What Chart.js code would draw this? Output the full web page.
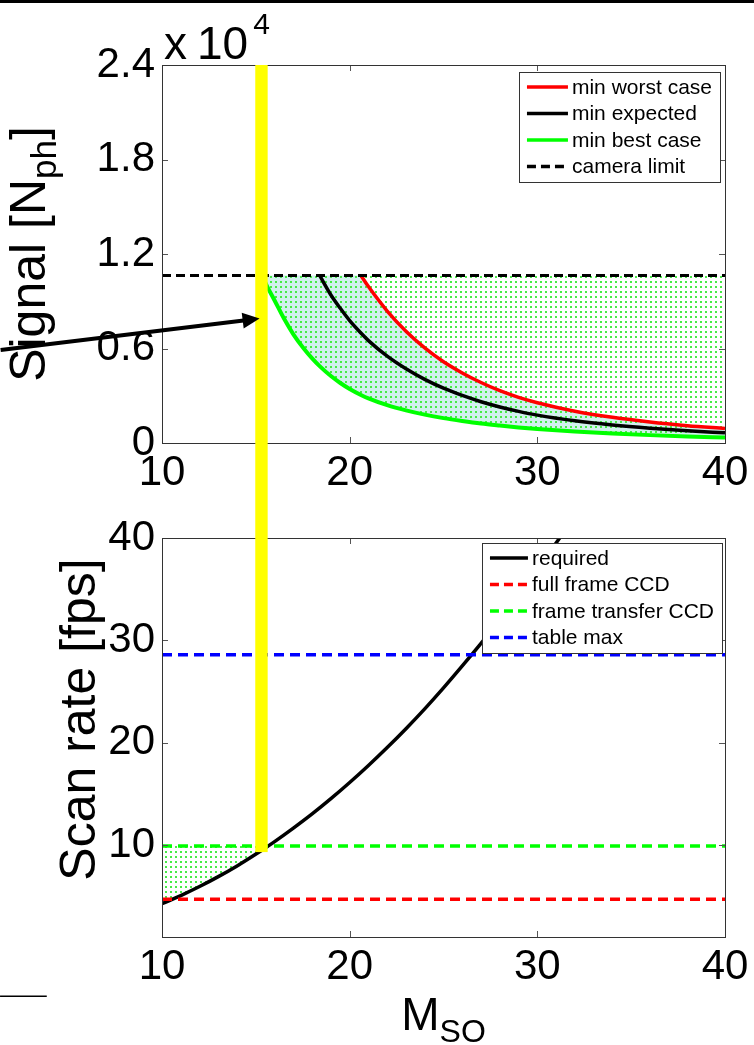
<!DOCTYPE html>
<html>
<head>
<meta charset="utf-8">
<script src="https://cdn.jsdelivr.net/npm/chart.js@4.4.0/dist/chart.umd.min.js"></script>
<style>
  html, body { margin: 0; padding: 0; background: #fff; }
  body { width: 754px; height: 1045px; position: relative; overflow: hidden; }
  #topRule { position: absolute; left: 0; top: 0; width: 754px; height: 3px; background: #000; z-index: 2; }
  #graficoSenal { position: absolute; left: 0; top: 0; }
  #graficoScan { position: absolute; left: 0; top: 500px; }
</style>
</head>
<body>
<div id="topRule"></div>
<canvas id="graficoSenal" width="754" height="500"></canvas>
<canvas id="graficoScan" width="754" height="545"></canvas>
<script>
// ---- signal plot (top), values in units of 1e4 photons ----
const msoGrid = [15.3, 15.6, 16, 16.5, 17, 17.5, 18, 18.4, 19, 19.5, 20, 20.6, 21, 22, 23, 24, 25, 26, 27, 28, 29, 30, 32, 34, 36, 38, 40];
const minBestCase = [1.07, 0.995, 0.905, 0.79, 0.69, 0.608, 0.537, 0.488, 0.425, 0.381, 0.343, 0.305, 0.283, 0.24, 0.207, 0.18, 0.158, 0.14, 0.124, 0.111, 0.099, 0.089, 0.073, 0.06, 0.05, 0.0415, 0.0345];
const minExpected = [null, null, null, null, null, null, null, 1.064, 0.94, 0.855, 0.777, 0.698, 0.65, 0.551, 0.471, 0.404, 0.348, 0.302, 0.262, 0.229, 0.201, 0.177, 0.141, 0.1145, 0.094, 0.0775, 0.0646];
const minWorstCase = [null, null, null, null, null, null, null, null, null, null, null, 1.064, 0.993, 0.838, 0.71, 0.604, 0.516, 0.445, 0.384, 0.332, 0.29, 0.256, 0.202, 0.163, 0.133, 0.11, 0.092];
const cameraLimit = 1.064;
const signalTicks = [0, 0.6, 1.2, 1.8, 2.4];
const msoTicks = [10, 20, 30, 40];

// ---- scan rate plot (bottom), fps ----
const msoRequired = [10, 11, 12, 13, 14, 15.3, 16, 17, 18, 19, 20, 21, 22, 23, 24, 25, 26, 27, 28, 29, 30, 31, 32];
const scanRequired = [4.25, 5.05, 5.93, 6.9, 7.95, 9.45, 10.32, 11.64, 13.03, 14.52, 16.1, 17.77, 19.52, 21.36, 23.3, 25.35, 27.5, 29.7, 32.0, 34.4, 36.9, 39.5, 42.1];
const fullFrameCCD = 4.7;
const frameTransferCCD = 9.9;
const tableMax = 28.6;
const scanTicks = [10, 20, 30, 40];

// chosen M_SO (yellow bar) and the hand-drawn marks around it
const msoChosen = 15.3;
const barBottomFps = 9.3;
const arrowFrom = [1.4, 0.59];
const arrowTo = [15.2, 0.79];
const stubLine = [[1.37, -4.8], [3.86, -4.8]];

const FONT = '"Liberation Sans", Arial, Helvetica, sans-serif';

function puntos(xs, ys) {
    return xs.map((x, i) => ({x, y: ys[i]}));
}

function recta(y, x0, x1) {
    return [{x: x0, y}, {x: x1, y}];
}

// MATLAB-like green dot hatch
function tramaPuntos(ctx) {
    const c = document.createElement('canvas');
    c.width = 5;
    c.height = 5;
    const g = c.getContext('2d');
    g.fillStyle = 'rgb(70,235,70)';
    g.fillRect(0, 1, 2, 2);
    return ctx.createPattern(c, 'repeat');
}

// text made of pieces, e.g. base + subscript
function textoCompuesto(ctx, partes, x, y, girar) {
    ctx.save();
    ctx.translate(x, y);
    if (girar) ctx.rotate(-Math.PI / 2);
    let ancho = 0;
    partes.forEach(p => {
        ctx.font = p.size + 'px ' + FONT;
        p.w = ctx.measureText(p.text).width;
        ancho += p.w;
    });
    let pos = -ancho / 2;
    ctx.fillStyle = '#000';
    ctx.textBaseline = 'alphabetic';
    ctx.textAlign = 'left';
    partes.forEach(p => {
        ctx.font = p.size + 'px ' + FONT;
        ctx.fillText(p.text, pos, p.dy || 0);
        pos += p.w;
    });
    ctx.restore();
}

const ejesMatlab = {
    id: 'ejesMatlab',
    afterDatasetsDraw(chart) {
        const {ctx, chartArea: a, scales: {x, y}} = chart;
        ctx.save();
        ctx.strokeStyle = '#555';
        ctx.lineWidth = 1;
        ctx.beginPath();
        x.ticks.forEach(t => {
            const px = Math.round(x.getPixelForValue(t.value)) + 0.5;
            ctx.moveTo(px, a.bottom); ctx.lineTo(px, a.bottom - 6);
            ctx.moveTo(px, a.top); ctx.lineTo(px, a.top + 6);
        });
        y.ticks.forEach(t => {
            const py = Math.round(y.getPixelForValue(t.value)) + 0.5;
            ctx.moveTo(a.left, py); ctx.lineTo(a.left + 6, py);
            ctx.moveTo(a.right, py); ctx.lineTo(a.right - 6, py);
        });
        ctx.stroke();
        ctx.strokeStyle = '#333';
        ctx.strokeRect(Math.round(a.left) + 0.5, Math.round(a.top) + 0.5, Math.round(a.width), Math.round(a.height));
        ctx.restore();
    }
};

function dibujarLeyenda(chart, margenDer, margenSup, largo) {
    const {ctx, chartArea: a} = chart;
    const items = chart.data.datasets.filter(d => d.enLeyenda).sort((p, q) => p.enLeyenda - q.enLeyenda);
    ctx.save();
    ctx.font = '21px ' + FONT;
    const maxTexto = Math.max(...items.map(d => ctx.measureText(d.label).width));
    const ancho = 8 + largo + 4 + maxTexto + 8;
    const alto = items.length * 26.5 + 4;
    const x0 = a.right - margenDer - ancho;
    const y0 = a.top + margenSup;
    ctx.fillStyle = '#fff';
    ctx.fillRect(x0, y0, ancho, alto);
    ctx.strokeStyle = '#333';
    ctx.lineWidth = 1;
    ctx.strokeRect(Math.round(x0) + 0.5, Math.round(y0) + 0.5, Math.round(ancho), Math.round(alto));
    items.forEach((d, i) => {
        const yy = y0 + 15 + i * 26.5;
        ctx.strokeStyle = d.borderColor;
        ctx.lineWidth = 3.5;
        ctx.setLineDash(d.borderDash && d.borderDash.length ? [9, 5] : []);
        ctx.beginPath();
        ctx.moveTo(x0 + 8, yy);
        ctx.lineTo(x0 + 8 + largo, yy);
        ctx.stroke();
        ctx.setLineDash([]);
        ctx.fillStyle = '#000';
        ctx.textBaseline = 'middle';
        ctx.fillText(d.label, x0 + 8 + largo + 4, yy + 1);
    });
    ctx.restore();
}

function barraAmarilla(chart, yTop, yBottom) {
    const {ctx, scales: {x}} = chart;
    const px = x.getPixelForValue(msoChosen);
    ctx.save();
    ctx.fillStyle = '#ffff00';
    ctx.fillRect(px - 6.2, yTop, 12.4, yBottom - yTop);
    ctx.restore();
}

const anotacionSenal = {
    id: 'anotacionSenal',
    afterDraw(chart) {
        const {ctx, chartArea: a, scales: {x, y}} = chart;
        barraAmarilla(chart, a.top, chart.height);

        // arrow pointing at the bar
        const x0 = x.getPixelForValue(arrowFrom[0]), y0 = y.getPixelForValue(arrowFrom[1]);
        const x1 = x.getPixelForValue(arrowTo[0]), y1 = y.getPixelForValue(arrowTo[1]);
        const ang = Math.atan2(y1 - y0, x1 - x0);
        ctx.save();
        ctx.strokeStyle = '#000';
        ctx.fillStyle = '#000';
        ctx.lineWidth = 4;
        ctx.beginPath();
        ctx.moveTo(x0, y0);
        ctx.lineTo(x1 - 14 * Math.cos(ang), y1 - 14 * Math.sin(ang));
        ctx.stroke();
        ctx.beginPath();
        ctx.moveTo(x1, y1);
        ctx.lineTo(x1 - 17 * Math.cos(ang) + 8 * Math.sin(ang), y1 - 17 * Math.sin(ang) - 8 * Math.cos(ang));
        ctx.lineTo(x1 - 17 * Math.cos(ang) - 8 * Math.sin(ang), y1 - 17 * Math.sin(ang) + 8 * Math.cos(ang));
        ctx.closePath();
        ctx.fill();
        ctx.restore();

        // exponent label
        ctx.save();
        ctx.fillStyle = '#000';
        ctx.textBaseline = 'alphabetic';
        ctx.textAlign = 'left';
        ctx.font = '46px ' + FONT;
        ctx.fillText('x', a.left + 2, a.top - 6);
        ctx.fillText('10', a.left + 35, a.top - 6);
        const w = ctx.measureText('10').width;
        ctx.font = '30px ' + FONT;
        ctx.fillText('4', a.left + 35 + w + 5, a.top - 31);
        ctx.restore();

        textoCompuesto(ctx, [
            {text: 'Signal [N', size: 50},
            {text: 'ph', size: 35, dy: 11},
            {text: ']', size: 50}
        ], 45, (a.top + a.bottom) / 2, true);

        dibujarLeyenda(chart, 5, 7, 41);
    }
};

const anotacionScan = {
    id: 'anotacionScan',
    afterDraw(chart) {
        const {ctx, chartArea: a, scales: {x, y}} = chart;
        barraAmarilla(chart, 0, y.getPixelForValue(barBottomFps));

        ctx.save();
        ctx.strokeStyle = '#000';
        ctx.lineWidth = 1.5;
        ctx.beginPath();
        ctx.moveTo(x.getPixelForValue(stubLine[0][0]), y.getPixelForValue(stubLine[0][1]));
        ctx.lineTo(x.getPixelForValue(stubLine[1][0]), y.getPixelForValue(stubLine[1][1]));
        ctx.stroke();
        ctx.restore();

        textoCompuesto(ctx, [{text: 'Scan rate [fps]', size: 50}], 95, (a.top + a.bottom) / 2 - 18, true);
        textoCompuesto(ctx, [
            {text: 'M', size: 46},
            {text: 'SO', size: 32, dy: 12}
        ], (a.left + a.right) / 2, a.bottom + 93, false);

        dibujarLeyenda(chart, 3, 5, 38);
    }
};

function opcionesBase(padTop, altoEjeX, yMin, yMax, yTicks) {
    const fuenteTicks = {family: FONT, size: 42};
    return {
        responsive: false,
        animation: false,
        devicePixelRatio: 1,
        layout: {padding: {left: 0, top: padTop, right: 29, bottom: 0}},
        elements: {point: {radius: 0}, line: {cubicInterpolationMode: 'monotone'}},
        plugins: {legend: {display: false}, tooltip: {enabled: false}},
        scales: {
            x: {
                type: 'linear', min: 10, max: 40,
                grid: {display: false, drawTicks: false}, border: {display: false},
                ticks: {color: '#000', font: fuenteTicks, padding: 5},
                afterBuildTicks: s => { s.ticks = msoTicks.map(v => ({value: v})); },
                afterFit: s => { s.height = altoEjeX; }
            },
            y: {
                type: 'linear', min: yMin, max: yMax,
                grid: {display: false, drawTicks: false}, border: {display: false},
                ticks: {color: '#000', font: fuenteTicks, padding: 7},
                afterBuildTicks: s => { s.ticks = yTicks.map(v => ({value: v})); },
                afterFit: s => { s.width = 162; }
            }
        }
    };
}

class GraficoSenal {
    constructor() {
        this.canvas = document.querySelector('#graficoSenal');
        const ctx = this.canvas.getContext('2d');
        const limiteCapado = minWorstCase.map(v => v === null ? cameraLimit : v);
        this.chart = new Chart(this.canvas, {
            type: 'line',
            data: {
                datasets: [
                    {label: 'min best case', enLeyenda: 3, data: puntos(msoGrid, minBestCase), borderColor: '#00ff00', borderWidth: 4, fill: false, order: 3},
                    {label: 'min expected', enLeyenda: 2, data: puntos(msoGrid, minExpected), borderColor: '#000000', borderWidth: 3.5, fill: false, order: 2},
                    {label: 'min worst case', enLeyenda: 1, data: puntos(msoGrid, minWorstCase), borderColor: '#ff0000', borderWidth: 3.5, fill: false, order: 1},
                    {label: 'camera limit', enLeyenda: 4, data: recta(cameraLimit, 10, 40), borderColor: '#000000', borderWidth: 3, borderDash: [9, 5], fill: false, order: 0, cubicInterpolationMode: 'default', tension: 0},
                    {label: 'range', data: puntos(msoGrid, limiteCapado), borderWidth: 0, borderColor: 'rgba(0,0,0,0)', fill: {target: 0, above: '#d2f0ee', below: '#d2f0ee'}, order: 10},
                    {label: 'hatch', data: recta(cameraLimit, msoChosen, 40), borderWidth: 0, borderColor: 'rgba(0,0,0,0)', fill: {target: 0, above: tramaPuntos(ctx), below: tramaPuntos(ctx)}, order: 9, tension: 0, cubicInterpolationMode: 'default'}
                ]
            },
            options: opcionesBase(65, 57, 0, 2.4, signalTicks),
            plugins: [ejesMatlab, anotacionSenal]
        });
    }
}

class GraficoScan {
    constructor() {
        this.canvas = document.querySelector('#graficoScan');
        const ctx = this.canvas.getContext('2d');
        this.chart = new Chart(this.canvas, {
            type: 'line',
            data: {
                datasets: [
                    {label: 'required', enLeyenda: 1, data: puntos(msoRequired, scanRequired), borderColor: '#000000', borderWidth: 3.5, fill: false, order: 1},
                    {label: 'full frame CCD', enLeyenda: 2, data: recta(fullFrameCCD, 10, 40), borderColor: '#ff0000', borderWidth: 3.5, borderDash: [10, 6], fill: false, order: 0},
                    {label: 'frame transfer CCD', enLeyenda: 3, data: recta(frameTransferCCD, 10, 40), borderColor: '#00ff00', borderWidth: 3.5, borderDash: [10, 6], fill: false, order: 0},
                    {label: 'table max', enLeyenda: 4, data: recta(tableMax, 10, 40), borderColor: '#0000ff', borderWidth: 3.5, borderDash: [10, 6], fill: false, order: 0},
                    {label: 'hatch', data: recta(frameTransferCCD, 10, msoChosen), borderWidth: 0, borderColor: 'rgba(0,0,0,0)', fill: {target: 0, above: tramaPuntos(ctx), below: tramaPuntos(ctx)}, order: 5}
                ]
            },
            options: opcionesBase(38, 108, 1, 40, scanTicks),
            plugins: [ejesMatlab, anotacionScan]
        });
    }
}

window.addEventListener('load', () => {
    new GraficoSenal();
    new GraficoScan();
});
</script>
</body>
</html>
